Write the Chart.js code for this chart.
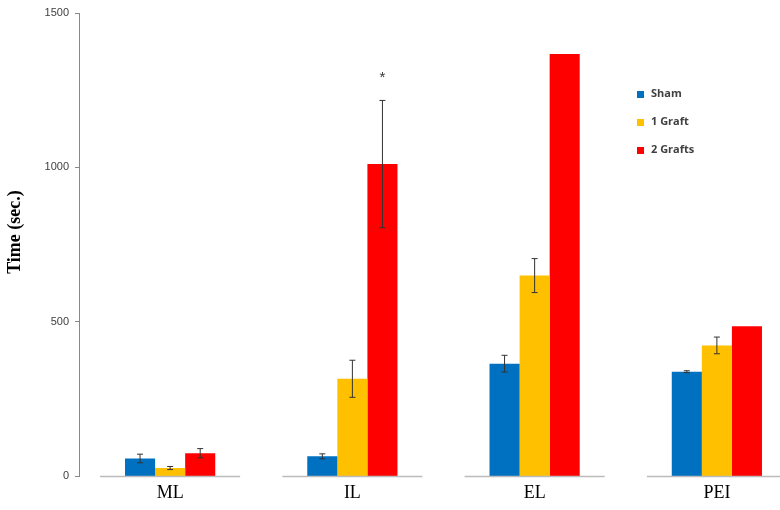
<!DOCTYPE html>
<html>
<head>
<meta charset="utf-8">
<script src="https://cdn.jsdelivr.net/npm/chart.js@4.4.0/dist/chart.umd.min.js"></script>
<style>
  html, body { margin: 0; padding: 0; background: #fff; overflow: hidden; }
  #wrap { position: relative; width: 808px; height: 510px; }
</style>
</head>
<body>
<div id="wrap"><canvas id="chart"></canvas></div>
<script>
const categories = ['ML', 'IL', 'EL', 'PEI'];
const seriesNames = ['Sham', '1 Graft', '2 Grafts'];
const sham = [58, 65, 365, 339];
const oneGraft = [27, 316, 650, 424];
const twoGrafts = [75, 1011, 1367, 486];
const shamErr = [14, 8, 27, 3];
const oneGraftErr = [5, 60, 55, 27];
const twoGraftsErr = [15, 206, 0, 0];
const yTicks = [0, 500, 1000, 1500];
const colors = ['#0070C0', '#FFC000', '#FF0000'];
const errors = [shamErr, oneGraftErr, twoGraftsErr];

// error bars, asterisk, axis segments, y title and legend
const extras = {
  id: 'extras',
  afterDatasetsDraw(chart) {
    const ctx = chart.ctx;
    const x = chart.scales.x;
    const y = chart.scales.y;
    const area = chart.chartArea;
    ctx.save();
    chart.data.datasets.forEach((ds, i) => {
      const meta = chart.getDatasetMeta(i);
      meta.data.forEach((bar, j) => {
        const e = errors[i][j];
        if (!e) return;
        const v = ds.data[j];
        const top = y.getPixelForValue(v + e);
        const bot = y.getPixelForValue(v - e);
        ctx.strokeStyle = '#333';
        ctx.lineWidth = 1;
        ctx.beginPath();
        ctx.moveTo(bar.x, top); ctx.lineTo(bar.x, bot);
        ctx.moveTo(bar.x - 3, top); ctx.lineTo(bar.x + 3, top);
        ctx.moveTo(bar.x - 3, bot); ctx.lineTo(bar.x + 3, bot);
        ctx.stroke();
      });
    });
    // significance mark on IL, 2 Grafts
    const redBar = chart.getDatasetMeta(2).data[1];
    ctx.fillStyle = '#333';
    ctx.font = '15px "Liberation Sans", Arial, sans-serif';
    ctx.textAlign = 'center';
    ctx.textBaseline = 'middle';
    ctx.fillText('*', redBar.x, y.getPixelForValue(1290));
    // horizontal axis, one segment per category
    ctx.strokeStyle = '#bbb';
    ctx.lineWidth = 1.5;
    ctx.beginPath();
    categories.forEach((c, i) => {
      const cx = x.getPixelForValue(i);
      ctx.moveTo(cx - 70, area.bottom);
      ctx.lineTo(cx + 70, area.bottom);
    });
    ctx.stroke();
    // y axis title
    ctx.save();
    ctx.translate(15, 232);
    ctx.rotate(-Math.PI / 2);
    ctx.fillStyle = '#000';
    ctx.font = 'bold 18px "Liberation Serif", "Times New Roman", serif';
    ctx.fillText('Time (sec.)', 0, 0);
    ctx.restore();
    // legend
    ctx.font = 'bold 11px "Open Sans", "Liberation Sans", sans-serif';
    ctx.textAlign = 'left';
    seriesNames.forEach((name, i) => {
      const ly = 94 + i * 28;
      ctx.fillStyle = colors[i];
      ctx.fillRect(637, ly - 3, 7, 7);
      ctx.fillStyle = '#404040';
      ctx.fillText(name, 651, ly);
    });
    ctx.restore();
  }
};

new Chart(document.getElementById('chart'), {
  type: 'bar',
  data: {
    labels: categories,
    datasets: [
      { label: seriesNames[0], data: sham, backgroundColor: colors[0] },
      { label: seriesNames[1], data: oneGraft, backgroundColor: colors[1] },
      { label: seriesNames[2], data: twoGrafts, backgroundColor: colors[2] }
    ]
  },
  options: {
    responsive: true,
    maintainAspectRatio: false,
    animation: false,
    layout: { padding: { top: 13, right: 0, bottom: 0, left: 0 } },
    datasets: { bar: { categoryPercentage: 0.495, barPercentage: 1.0 } },
    plugins: { legend: { display: false }, tooltip: { enabled: false } },
    scales: {
      x: {
        grid: { display: false, drawTicks: false },
        border: { display: false },
        ticks: {
          color: '#000',
          padding: 6,
          font: { family: '"Liberation Serif", "Times New Roman", serif', size: 18 }
        }
      },
      y: {
        min: 0,
        max: 1500,
        afterFit(scale) { scale.width = 79; },
        afterBuildTicks(scale) { scale.ticks = yTicks.map(v => ({ value: v })); },
        grid: { drawOnChartArea: false, drawTicks: true, tickLength: 4, color: '#888' },
        border: { display: true, color: '#888', width: 1 },
        ticks: {
          color: '#404040',
          padding: 6,
          callback: v => String(v),
          font: { family: '"Liberation Sans", Arial, sans-serif', size: 11 }
        }
      }
    }
  },
  plugins: [extras]
});
</script>
</body>
</html>
